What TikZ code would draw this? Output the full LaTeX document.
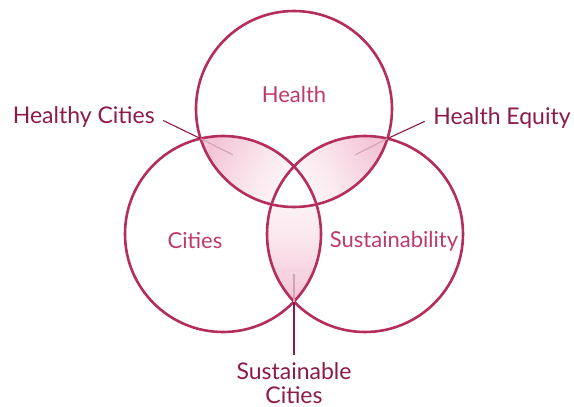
\documentclass[tikz,border=0pt]{standalone}
\usepackage{fontspec}
\setmainfont{Lato}
\usepackage{tikz}

\definecolor{ringred}{HTML}{B52D5C}
\definecolor{labeldark}{HTML}{8C1A4B}
\definecolor{labelpink}{HTML}{C0396B}
\definecolor{lenspink}{HTML}{F3C5D6}

\begin{document}
\begin{tikzpicture}[x=1pt,y=-1pt,semithick]
  \tikzstyle{ring}=[draw=ringred,line width=2.6pt]
  \tikzstyle{inner label}=[text=labelpink,font=\fontsize{22}{24}\selectfont]
  \tikzstyle{outer label}=[text=labeldark,font=\fontsize{23}{24}\selectfont,align=center,inner sep=1pt]
  \tikzstyle{leader}=[draw=labeldark,line width=1.1pt]
  \tikzstyle{leader end}=[draw=labeldark!40,line width=1.1pt]
  \tikzstyle{glow}=[top color=white,bottom color=lenspink,middle color=lenspink!40]
  \useasboundingbox (0,0) rectangle (574,407);

  \coordinate (T) at (294,109);
  \coordinate (L) at (223,234);
  \coordinate (R) at (365,234);

  % tips where the circles cross
  \coordinate (hc tip) at (200.6,138.6);
  \coordinate (hc end) at (233,155);
  \coordinate (he tip) at (387.4,138.6);
  \coordinate (he end) at (355,155);
  \coordinate (sc tip) at (294,301.5);
  \coordinate (sc end) at (294,274);
  \coordinate (tr in) at (271.6,204.4);

  % the three lenses
  \shade[glow,shading angle=240.4] (hc tip) arc[start angle=197.6,end angle=283.2,radius=98pt]
    arc[start angle=17.6,end angle=103.2,radius=98pt] -- cycle;
  \shade[glow,shading angle=119.6] (tr in) arc[start angle=256.8,end angle=342.4,radius=98pt]
    arc[start angle=76.8,end angle=162.4,radius=98pt] -- cycle;
  \shade[glow] (sc tip) arc[start angle=-43.55,end angle=43.55,radius=98pt]
    arc[start angle=136.45,end angle=223.55,radius=98pt] -- cycle;
  % middle stays white
  \fill[white] (tr in) arc[start angle=256.8,end angle=283.2,radius=98pt]
    arc[start angle=17.6,end angle=43.55,radius=98pt]
    arc[start angle=136.45,end angle=162.4,radius=98pt] -- cycle;

  \draw[ring] (T) circle [radius=98pt];
  \draw[ring] (L) circle [radius=98pt];
  \draw[ring] (R) circle [radius=98pt];

  \node[inner label] (health) at (294,94) {Health};
  \node[inner label] (cities) at (195,241) {Cities};
  \node[inner label] (sustain) at (394,241) {Sustainability};

  \node[outer label,anchor=east] (healthycities) at (156,117) {Healthy Cities};
  \node[outer label,anchor=west] (healthequity) at (432,118) {Health Equity};
  \node[outer label] (sustcities) at (294,383) {Sustainable\\Cities};

  \draw[leader,shorten <=8pt] (healthycities.east) -- (hc tip);
  \draw[leader end] (hc tip) -- (hc end);
  \draw[leader,shorten <=8pt] (healthequity.west) -- (he tip);
  \draw[leader end] (he tip) -- (he end);
  \draw[leader,shorten <=6pt] (sustcities.north) -- (sc tip);
  \draw[leader end] (sc tip) -- (sc end);
\end{tikzpicture}
\end{document}
